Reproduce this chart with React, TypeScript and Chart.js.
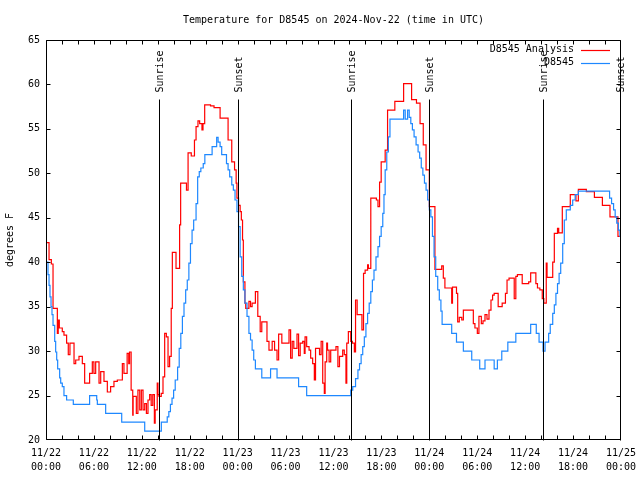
import React, { useEffect, useRef } from 'react';
import { Chart, registerables } from 'chart.js';

Chart.register(...registerables);

const TITLE = 'Temperature for D8545 on 2024-Nov-22 (time in UTC)';
const Y_TITLE = 'degrees F';
const SERIES_NAMES = ['D8545 Analysis', 'D8545'];
const SERIES_COLORS = ['#ff0000', '#1e88ff'];

// x axis: hours since 2024-11-22 00:00 UTC
const X_MIN = 0;
const X_MAX = 72;
const X_MAJOR_STEP = 6;
const X_MINOR_STEP = 2;
const X_TICK_HOURS = [0, 6, 12, 18, 24, 30, 36, 42, 48, 54, 60, 66, 72];
const X_TICK_DATES = ['11/22', '11/22', '11/22', '11/22', '11/23', '11/23', '11/23', '11/23', '11/24', '11/24', '11/24', '11/24', '11/25'];
const X_TICK_TIMES = ['00:00', '06:00', '12:00', '18:00', '00:00', '06:00', '12:00', '18:00', '00:00', '06:00', '12:00', '18:00', '00:00'];

const Y_MIN = 20;
const Y_MAX = 65;
const Y_STEP = 5;

// Sunrise / sunset markers
const SUN_HOURS = [14.15, 23.98, 38.15, 47.92, 62.2, 71.93];
const SUN_LABELS = ['Sunrise', 'Sunset', 'Sunrise', 'Sunset', 'Sunrise', 'Sunset'];
const SUN_LINE_TOP = 58.4;

// D8545 Analysis (red)
const analysisHours = [
  0, 0.38, 0.67, 0.88, 1.42, 1.53, 1.67, 2.04, 2.25, 2.58, 2.79, 3.0, 3.51, 3.72, 4.13, 4.55, 4.84,
  5.46, 5.8, 6.0, 6.22, 6.64, 6.85, 7.26, 7.68, 8.09, 8.51, 8.93, 9.56, 9.76, 10.16, 10.36, 10.46,
  10.66, 10.86, 10.91, 11.31, 11.51, 11.74, 11.94, 12.15, 12.36, 12.57, 12.77, 12.98, 13.17, 13.37,
  13.57, 13.67, 13.93, 14.02, 14.15, 14.43, 14.65, 14.86, 15.07, 15.28, 15.48, 15.68, 15.82, 16.28,
  16.73, 16.86, 17.59, 17.79, 18.19, 18.59, 18.79, 19.03, 19.24, 19.53, 19.66, 19.87, 20.6, 21.04,
  21.8, 22.8, 23.26, 23.61, 23.81, 23.91, 24.11, 24.31, 24.46, 24.61, 24.71, 24.91, 25.01, 25.41,
  25.61, 25.81, 26.22, 26.52, 26.82, 27.02, 27.67, 27.92, 28.32, 28.62, 28.93, 29.13, 29.53, 30.43,
  30.63, 30.83, 31.03, 31.43, 31.63, 31.83, 32.14, 32.34, 32.44, 32.64, 32.94, 33.14, 33.39, 33.6,
  33.75, 34.25, 34.45, 34.65, 34.85, 34.95, 35.15, 35.25, 35.45, 35.65, 36.31, 36.55, 36.75, 37.15,
  37.35, 37.56, 37.66, 37.86, 38.16, 38.36, 38.61, 38.76, 38.96, 39.56, 39.76, 39.96, 40.27, 40.37,
  40.67, 41.37, 41.57, 41.77, 41.97, 42.47, 42.77, 43.68, 44.78, 45.78, 46.39, 46.84, 47.24, 47.59,
  48.0, 48.7, 49.55, 49.75, 49.95, 50.8, 50.9, 51.4, 51.55, 51.75, 52.06, 52.26, 53.51, 53.71, 54.01,
  54.21, 54.51, 54.72, 54.97, 55.22, 55.47, 55.72, 55.92, 56.12, 56.62, 57.12, 57.53, 57.73, 57.98,
  58.63, 58.83, 59.03, 59.63, 60.44, 60.69, 61.34, 61.54, 61.84, 62.14, 62.34, 62.64, 62.74, 63.45,
  63.65, 64.05, 64.2, 64.65, 65.65, 66.36, 66.66, 67.66, 68.67, 69.67, 70.62, 71.62, 72
];
const analysisTemps = [
  42.2, 40.3, 39.8, 34.8, 32, 33.5, 32.6, 32.2, 31.8, 30.9, 29.6, 30.9, 28.6, 29, 29.4, 28.6, 26.4,
  27.5, 28.8, 27.5, 28.8, 26.4, 27.7, 26.6, 25.4, 26, 26.6, 26.75, 28.6, 27.5, 29.75, 28.6, 29.9,
  25.6, 22.8, 24.9, 23, 25.6, 23.4, 25.6, 23.4, 24.1, 23, 24.5, 25.1, 23.9, 25.1,
  21.9, 23.4, 26.4, 25.1, 24.9, 25.25, 27.1, 32, 31.6, 28.25, 29.4, 34.8, 41.1, 39.3,
  44.2, 48.9, 48.1, 52.3, 51.95, 53.75, 55.25, 55.9, 55.6, 54.9, 55.6, 57.7, 57.6, 57.4,
  56.2, 53.75, 51.3, 50.4, 48.9, 47.2, 46.4, 45.7, 44.75, 42.5, 37.8, 35.4, 34.8, 35.6,
  35.0, 35.4, 36.7, 33.9, 32.2, 33.3, 31.1, 30.1, 31.1, 30.1, 29, 31.9, 30.9, 32.4,
  29.2, 31.1, 30.3, 31.9, 29.5, 30.9, 31.1, 29.75, 31.6, 30.5, 30.1, 29.2, 28.6, 26.75,
  30.3, 29.6, 31.1, 26.4, 25.25, 28.8, 30.9, 30.1, 28.8, 30.1, 30.5, 28.25, 29.4, 30.1,
  29.6, 26.4, 30.9, 32.2, 31.1, 30.9, 29.9, 35.75, 34.1, 32.4, 38.75, 39.1, 39.7, 39.3,
  47.2, 47.0, 46.25, 49, 51.3, 52.6, 57.1, 58.1, 60.1, 58.3, 57.9, 55.6, 53.2, 50.4,
  46.25, 39.2, 39.6, 38.2, 37.1, 35.4, 37.2, 36.5, 33.3, 33.8, 33.5, 34.6, 33.1, 32.6, 32,
  33.9, 33.1, 33.4, 34.1, 33.6, 34.6, 35.75, 36.3, 36.5, 35, 35.4, 36.5, 38, 38.2,
  35.9, 38.4, 38.6, 37.6, 37.8, 38.8, 37.6, 37.1, 36.9, 35.9, 35.4, 39.9, 38.3, 40.0,
  43.25, 43.8, 43.3, 46.25, 47.6, 46.9, 48.2, 47.95, 47.3, 46.4, 45.1, 42.9, 42.9
];

// D8545 observations (blue)
const obsHours = [
  0, 0.25, 0.38, 0.5, 0.63, 0.75, 0.88, 1.09, 1.21, 1.34, 1.46, 1.71, 1.84, 2.04, 2.25, 2.58, 3.42,
  5.46, 6.35, 6.43, 7.47, 9.48, 12.36, 14.44, 15.18, 15.38, 15.58, 15.78, 15.98, 16.18, 16.48, 16.68,
  16.88, 17.08, 17.28, 17.49, 17.69, 17.89, 18.09, 18.29, 18.49, 18.79, 18.99, 19.19, 19.39, 19.69,
  19.89, 20.8, 21.37, 21.55, 21.8, 22.0, 22.6, 22.8, 23.0, 23.26, 23.46, 23.67, 23.91, 24.11, 24.31,
  24.51, 24.71, 24.91, 25.17, 25.41, 25.61, 25.81, 26.01, 26.22, 27.02, 28.12, 28.93, 31.63, 32.64,
  38.16, 38.41, 38.76, 39.06, 39.26, 39.46, 39.66, 39.86, 40.06, 40.27, 40.47, 40.67, 40.87, 41.07,
  41.32, 41.57, 41.77, 41.97, 42.17, 42.32, 42.47, 42.67, 42.87, 43.07, 44.78, 44.98, 45.28, 45.48,
  45.68, 45.88, 46.09, 46.34, 46.59, 46.79, 46.99, 47.19, 47.39, 47.59, 47.79, 48.0, 48.19, 48.39,
  48.59, 48.8, 49.05, 49.25, 49.45, 49.6, 50.8, 51.4, 52.26, 53.31, 54.31, 54.97, 56.12, 56.52,
  57.07, 57.83, 58.83, 60.69, 61.39, 61.74, 62.24, 62.49, 62.94, 63.14, 63.45, 63.65, 63.85, 64.05,
  64.25, 64.45, 64.7, 64.9, 65.15, 65.65, 65.95, 66.26, 66.66, 70.57, 70.82, 71.07, 71.27, 71.47,
  71.67, 71.87, 72
];
const obsTemps = [
  40, 38.6, 37.4, 36.1, 35, 34.1, 32.9, 31.1, 29.9, 29, 28, 27, 26.4, 26, 25, 24.5, 24,
  25, 24.5, 24, 23, 22, 21, 22, 22.6, 23.2, 24, 24.7, 25.6, 26.75, 28.2, 30.3,
  32, 33.9, 35.4, 36.9, 38, 39.9, 42.1, 43.6, 44.75, 46.6, 49.6, 50.2, 50.6, 51.1,
  52.1, 53, 54.05, 53.5, 53, 52.1, 51.1, 50.4, 49.6, 48.7, 48.1, 47, 45.7, 44, 40.6,
  38.4, 36.9, 35.4, 33.9, 32, 31.25, 30.1, 29, 28, 27, 28, 27, 26, 25,
  25.6, 26, 26.9, 27.9, 28.6, 29.6, 30.5, 31.6, 33.1, 34.25, 35.4, 36.7, 38, 39.1,
  40.6, 41.75, 42.9, 44, 45.5, 47.6, 50.4, 52.4, 54.1, 56.1, 57.1, 56.1, 57.1, 56.3,
  55.6, 54.9, 54.1, 53.2, 52.4, 51.7, 50.6, 49.8, 48.9, 48.1, 47, 45.9, 45.1, 42.9,
  40.6, 38.4, 36.9, 35.75, 34.5, 33, 32, 31, 30, 29, 28, 29, 28, 29,
  30, 31, 32, 33, 32, 31, 30, 31, 32, 33, 34.25, 35.2, 36.5, 37.6,
  38.75, 39.9, 42.1, 44.75, 45.9, 46.4, 47, 47.6, 48, 47.2, 46.6, 45.9, 45.1, 44.4,
  43.6, 42.9, 42.9
];

const FONT = '10px "DejaVu Sans Mono", "Liberation Mono", monospace';
const FONT_SPEC = { family: '"DejaVu Sans Mono", "Liberation Mono", monospace', size: 10 };

const decorPlugin = {
  id: 'gnuplotDecor',
  afterDatasetsDraw(chart: any) {
    const { ctx, chartArea: a, scales } = chart;
    const xs = scales.x;
    const ys = scales.y;
    const px = (v: number) => Math.round(xs.getPixelForValue(v)) + 0.5;
    const py = (v: number) => Math.round(ys.getPixelForValue(v)) + 0.5;
    ctx.save();
    ctx.strokeStyle = '#000';
    ctx.fillStyle = '#000';
    ctx.lineWidth = 1;
    ctx.font = FONT;

    // sunrise / sunset markers
    const yTop = py(SUN_LINE_TOP);
    const yBot = py(Y_MIN);
    SUN_HOURS.forEach((h, i) => {
      const x = Math.min(px(h), a.right - 0.5);
      ctx.beginPath();
      ctx.moveTo(x, yBot);
      ctx.lineTo(x, yTop);
      ctx.stroke();
      ctx.save();
      ctx.translate(x + 1, yTop - 7);
      ctx.rotate(-Math.PI / 2);
      ctx.textAlign = 'left';
      ctx.textBaseline = 'middle';
      ctx.fillText(SUN_LABELS[i], 0, 0);
      ctx.restore();
    });

    // frame
    const L = Math.round(a.left) + 0.5;
    const R = Math.round(a.right) - 0.5;
    const T = Math.round(a.top) + 0.5;
    const B = Math.round(a.bottom) - 0.5;
    ctx.beginPath();
    ctx.rect(L, T, R - L, B - T);
    ctx.stroke();

    // inward ticks
    const TL = 4;
    ctx.beginPath();
    for (let h = X_MIN; h <= X_MAX; h += X_MINOR_STEP) {
      const x = Math.min(px(h), R);
      ctx.moveTo(x, B);
      ctx.lineTo(x, B - TL);
      ctx.moveTo(x, T);
      ctx.lineTo(x, T + TL);
    }
    for (let v = Y_MIN; v <= Y_MAX; v += Y_STEP) {
      const y = Math.min(Math.max(py(v), T), B);
      ctx.moveTo(L, y);
      ctx.lineTo(L + TL, y);
      ctx.moveTo(R, y);
      ctx.lineTo(R - TL, y);
    }
    ctx.stroke();

    // legend
    const legendTextRight = a.right - 47;
    const lineX0 = a.right - 40;
    const lineX1 = a.right - 11;
    SERIES_NAMES.forEach((name, i) => {
      const y = a.top + 9.5 + i * 13;
      ctx.textAlign = 'right';
      ctx.textBaseline = 'middle';
      ctx.fillStyle = '#000';
      ctx.fillText(name, legendTextRight, y);
      ctx.strokeStyle = SERIES_COLORS[i];
      ctx.lineWidth = 1.2;
      ctx.beginPath();
      ctx.moveTo(lineX0, Math.round(y) + 0.5);
      ctx.lineTo(lineX1, Math.round(y) + 0.5);
      ctx.stroke();
    });

    // title
    ctx.fillStyle = '#000';
    ctx.textAlign = 'center';
    ctx.textBaseline = 'middle';
    ctx.fillText(TITLE, (a.left + a.right) / 2, 20);
    ctx.restore();
  },
};

function makePoints(xs: number[], ys: number[]) {
  return xs.map((x, i) => ({ x, y: ys[i] }));
}

export default function App() {
  const canvasRef = useRef<HTMLCanvasElement | null>(null);

  useEffect(() => {
    document.body.style.margin = '0';
    const canvas = canvasRef.current;
    if (!canvas) return;
    const chart = new Chart(canvas, {
      type: 'line',
      data: {
        datasets: [
          {
            label: SERIES_NAMES[0],
            data: makePoints(analysisHours, analysisTemps),
            borderColor: SERIES_COLORS[0],
            backgroundColor: SERIES_COLORS[0],
            borderWidth: 1.2,
            pointRadius: 0,
            stepped: 'before',
            fill: false,
            order: 2,
          },
          {
            label: SERIES_NAMES[1],
            data: makePoints(obsHours, obsTemps),
            borderColor: SERIES_COLORS[1],
            backgroundColor: SERIES_COLORS[1],
            borderWidth: 1.2,
            pointRadius: 0,
            stepped: 'before',
            fill: false,
            order: 1,
          },
        ],
      },
      options: {
        responsive: false,
        animation: false,
        events: [],
        layout: { padding: { left: 0, right: 19, top: 40, bottom: 0 } },
        plugins: {
          legend: { display: false },
          tooltip: { enabled: false },
          title: { display: false },
        },
        scales: {
          x: {
            type: 'linear',
            min: X_MIN,
            max: X_MAX,
            grid: { display: false, drawTicks: false, tickLength: 0 },
            border: { display: false },
            afterFit: (s: any) => {
              s.height = 40;
              s.paddingLeft = 0;
              s.paddingRight = 0;
            },
            ticks: {
              stepSize: X_MAJOR_STEP,
              autoSkip: false,
              maxRotation: 0,
              minRotation: 0,
              padding: 7,
              color: '#000',
              font: { ...FONT_SPEC, lineHeight: 1.35 },
              callback: (v: any) => {
                const i = X_TICK_HOURS.indexOf(Number(v));
                return i >= 0 ? [X_TICK_DATES[i], X_TICK_TIMES[i]] : '';
              },
            },
          },
          y: {
            type: 'linear',
            min: Y_MIN,
            max: Y_MAX,
            grid: { display: false, drawTicks: false, tickLength: 0 },
            border: { display: false },
            afterFit: (s: any) => {
              s.width = 46;
              s.paddingTop = 0;
              s.paddingBottom = 0;
            },
            title: {
              display: true,
              text: Y_TITLE,
              color: '#000',
              font: FONT_SPEC,
              padding: { top: 4, bottom: 0 },
            },
            ticks: {
              stepSize: Y_STEP,
              padding: 6,
              color: '#000',
              font: FONT_SPEC,
            },
          },
        },
      },
      plugins: [decorPlugin],
    });
    return () => chart.destroy();
  }, []);

  return (
    <div style={{ position: 'fixed', left: 0, top: 0, width: 640, height: 480, background: '#fff' }}>
      <canvas ref={canvasRef} width={640} height={480} style={{ width: 640, height: 480 }} />
    </div>
  );
}
